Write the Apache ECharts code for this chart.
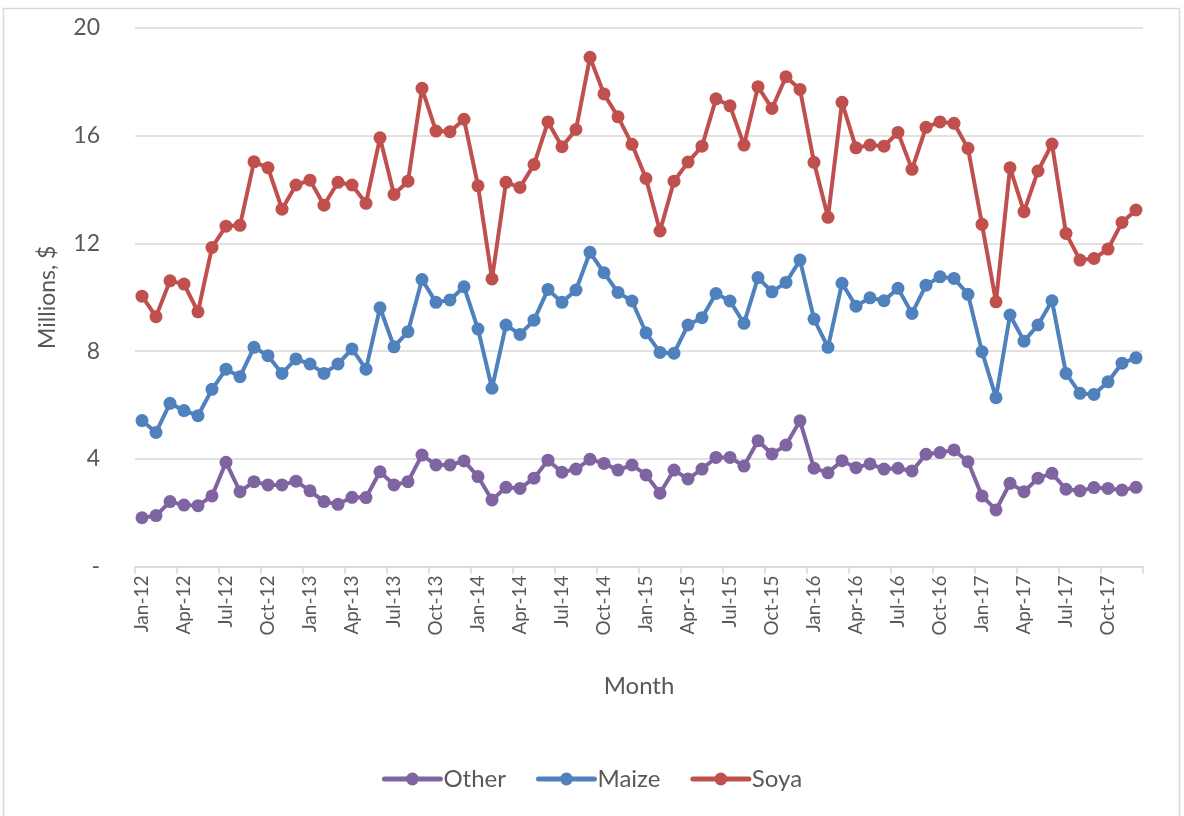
<!DOCTYPE html>
<html>
<head>
<meta charset="utf-8">
<title>Monthly value by crop</title>
<script src="https://cdn.jsdelivr.net/npm/echarts@6/dist/echarts.min.js"></script>
<style>
  html, body { margin: 0; padding: 0; background: #ffffff; }
  #chart { width: 1184px; height: 816px; }
</style>
</head>
<body>
<div id="chart"></div>
<script>
// Month labels, Jan-12 .. Dec-17
const monthNames = ['Jan','Feb','Mar','Apr','May','Jun','Jul','Aug','Sep','Oct','Nov','Dec'];
const years = ['12','13','14','15','16','17'];
const months = [];
years.forEach(y => monthNames.forEach(m => months.push(m + '-' + y)));

// Y-axis ticks (millions of dollars)
const yTicks = [0, 4, 8, 12, 16, 20];

// Monthly values, millions of dollars
const other = [
  1.81, 1.89, 2.41, 2.28, 2.26, 2.62, 3.87, 2.78, 3.15, 3.03, 3.03, 3.17,
  2.81, 2.41, 2.31, 2.57, 2.56, 3.52, 3.03, 3.15, 4.14, 3.77, 3.77, 3.92,
  3.34, 2.47, 2.94, 2.90, 3.28, 3.95, 3.50, 3.62, 3.98, 3.83, 3.58, 3.77,
  3.40, 2.72, 3.58, 3.25, 3.62, 4.05, 4.05, 3.73, 4.67, 4.18, 4.51, 5.41,
  3.65, 3.48, 3.93, 3.67, 3.81, 3.62, 3.65, 3.55, 4.17, 4.23, 4.33, 3.89,
  2.62, 2.10, 3.09, 2.78, 3.28, 3.46, 2.87, 2.81, 2.93, 2.90, 2.84, 2.94
];
const maize = [
  5.42, 4.98, 6.06, 5.79, 5.60, 6.58, 7.33, 7.05, 8.14, 7.83, 7.17, 7.71,
  7.52, 7.17, 7.52, 8.08, 7.33, 9.61, 8.16, 8.72, 10.66, 9.81, 9.90, 10.39,
  8.82, 6.62, 8.97, 8.62, 9.15, 10.29, 9.81, 10.27, 11.67, 10.91, 10.18, 9.86,
  8.68, 7.95, 7.92, 8.97, 9.24, 10.14, 9.86, 9.03, 10.73, 10.20, 10.55, 11.38,
  9.19, 8.14, 10.52, 9.67, 9.98, 9.87, 10.33, 9.40, 10.45, 10.76, 10.70, 10.11,
  7.98, 6.27, 9.34, 8.37, 8.97, 9.87, 7.17, 6.43, 6.39, 6.86, 7.55, 7.75
];
const soya = [
  10.04, 9.28, 10.61, 10.49, 9.46, 11.85, 12.64, 12.67, 15.03, 14.81, 13.27, 14.17,
  14.35, 13.42, 14.27, 14.17, 13.49, 15.92, 13.82, 14.31, 17.76, 16.17, 16.15, 16.61,
  14.14, 10.68, 14.27, 14.08, 14.93, 16.51, 15.59, 16.23, 18.91, 17.55, 16.70, 15.68,
  14.41, 12.46, 14.31, 15.02, 15.61, 17.37, 17.11, 15.65, 17.82, 17.01, 18.19, 17.72,
  15.01, 12.97, 17.24, 15.55, 15.65, 15.61, 16.12, 14.75, 16.31, 16.51, 16.46, 15.53,
  12.71, 9.83, 14.81, 13.18, 14.69, 15.69, 12.37, 11.38, 11.44, 11.79, 12.78, 13.24
];

const FONT = 'Lato, "Open Sans", sans-serif';
const TEXT = '#595959';
const GRID = '#d9d9d9';

function lineSeries(name, data, color) {
  return {
    name: name,
    type: 'line',
    data: data,
    symbol: 'circle',
    symbolSize: 13,
    showSymbol: true,
    showAllSymbol: true,
    lineStyle: { width: 4, color: color, cap: 'round', join: 'round' },
    itemStyle: { color: color },
    emphasis: { disabled: true },
    animation: false
  };
}

const chart = echarts.init(document.getElementById('chart'), null, { renderer: 'canvas' });
chart.setOption({
  animation: false,
  backgroundColor: '#ffffff',
  textStyle: { fontFamily: FONT },
  graphic: [{
    type: 'rect',
    shape: { x: 3.5, y: 8.5, width: 1176, height: 820 },
    style: { fill: 'none', stroke: GRID, lineWidth: 1.5 },
    silent: true,
    z: -10
  }],
  grid: { left: 135, right: 41, top: 28, bottom: 249.5 },
  legend: {
    bottom: 20,
    left: 'center',
    itemWidth: 56,
    itemHeight: 16,
    itemGap: 30,
    lineStyle: { width: 5, cap: 'round' },
    textStyle: { fontSize: 24, color: TEXT, fontFamily: FONT, padding: [0, 0, 0, -2] },
    data: ['Other', 'Maize', 'Soya']
  },
  xAxis: {
    type: 'category',
    data: months,
    boundaryGap: true,
    name: 'Month',
    nameLocation: 'middle',
    nameGap: 108,
    nameTextStyle: { fontSize: 24, color: TEXT, fontFamily: FONT },
    axisLine: { lineStyle: { color: GRID, width: 1.5 } },
    axisTick: { show: true, interval: 2, length: 7, lineStyle: { color: GRID, width: 1.5 } },
    axisLabel: {
      interval: 2,
      rotate: 90,
      fontSize: 19,
      color: TEXT,
      margin: 9,
      fontFamily: FONT
    },
    splitLine: { show: false }
  },
  yAxis: {
    type: 'value',
    min: yTicks[0],
    max: yTicks[yTicks.length - 1],
    interval: yTicks[1] - yTicks[0],
    name: 'Millions, $',
    nameLocation: 'middle',
    nameRotate: 90,
    nameGap: 76,
    nameTextStyle: { fontSize: 23, color: TEXT, fontFamily: FONT },
    axisLine: { show: false },
    axisTick: { show: false },
    axisLabel: {
      fontSize: 23,
      color: TEXT,
      margin: 35,
      fontFamily: FONT,
      formatter: v => (v === 0 ? '-' : String(v))
    },
    splitLine: { lineStyle: { color: GRID, width: 1.5 } }
  },
  series: [
    lineSeries('Other', other, '#8064a2'),
    lineSeries('Maize', maize, '#4f81bd'),
    lineSeries('Soya', soya, '#c0504d')
  ]
});
</script>
</body>
</html>
